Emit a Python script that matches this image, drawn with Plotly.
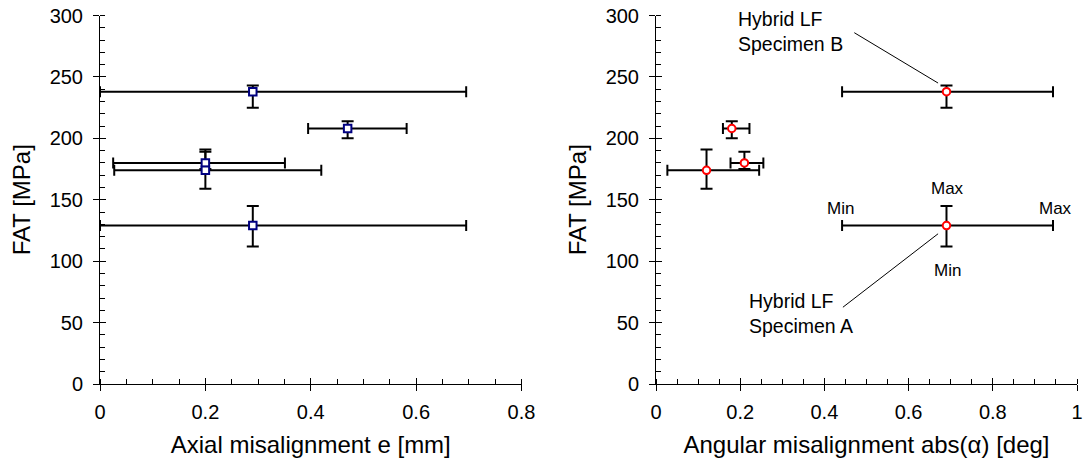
import plotly.graph_objects as go

# ---- data ----
fat = [238, 208, 180, 174, 129]
fat_max = [243, 214, 189, 191, 145]
fat_min = [225, 200, 175, 159, 112]

axial_e = [0.29, 0.47, 0.20, 0.20, 0.29]
axial_e_min = [0.0, 0.395, 0.025, 0.027, 0.0]
axial_e_max = [0.695, 0.582, 0.351, 0.42, 0.695]

ang_a = [0.69, 0.18, 0.21, 0.12, 0.69]
ang_a_min = [0.442, 0.159, 0.177, 0.027, 0.442]
ang_a_max = [0.943, 0.222, 0.255, 0.245, 0.943]

FONT = "Arial, Liberation Sans, sans-serif"

def plus(v, hi):
    return [h - c for c, h in zip(v, hi)]

def minus(v, lo):
    return [c - l for c, l in zip(v, lo)]

fig = go.Figure()

err_common = dict(type="data", symmetric=False, color="black", thickness=2)

fig.add_trace(go.Scatter(
    x=axial_e, y=fat, mode="markers", xaxis="x", yaxis="y",
    marker=dict(symbol="square", size=7.5, color="white",
                line=dict(color="#000080", width=2)),
    error_x=dict(array=plus(axial_e, axial_e_max), arrayminus=minus(axial_e, axial_e_min),
                 width=5.5, **err_common),
    error_y=dict(array=plus(fat, fat_max), arrayminus=minus(fat, fat_min),
                 width=6, **err_common),
    cliponaxis=False, showlegend=False, hoverinfo="x+y"))

fig.add_trace(go.Scatter(
    x=ang_a, y=fat, mode="markers", xaxis="x2", yaxis="y2",
    marker=dict(symbol="circle", size=7.5, color="white",
                line=dict(color="#ff0000", width=2)),
    error_x=dict(array=plus(ang_a, ang_a_max), arrayminus=minus(ang_a, ang_a_min),
                 width=5.5, **err_common),
    error_y=dict(array=plus(fat, fat_max), arrayminus=minus(fat, fat_min),
                 width=6, **err_common),
    cliponaxis=False, showlegend=False, hoverinfo="x+y"))

# invisible traces for overlay axes (inner half of the crossing major ticks)
fig.add_trace(go.Scatter(x=[None], y=[None], xaxis="x3", yaxis="y3", showlegend=False))
fig.add_trace(go.Scatter(x=[None], y=[None], xaxis="x4", yaxis="y4", showlegend=False))

W, H = 1084, 465

def xd(p0, p1):
    return [p0 / W, p1 / W]

xdom_l = xd(100, 521.5)
xdom_r = xd(656, 1077)
ydom = [(H - 384) / H, (H - 15.5) / H]

tickfont = dict(family=FONT, size=20, color="black")
titlefont = dict(family=FONT, size=24, color="black")

def xaxis_def(dom, rng, dtick, title, anchor):
    return dict(domain=dom, range=rng, dtick=dtick, tick0=0, anchor=anchor,
                showline=True, linecolor="black", linewidth=1,
                ticks="outside", ticklen=6, tickwidth=1, tickcolor="black",
                minor=dict(ticks="inside", ticklen=5, dtick=0.05, tickcolor="black", tickwidth=1),
                showgrid=False, zeroline=False, tickfont=tickfont,
                ticklabelstandoff=4, ticklabeloverflow="allow",
                title=dict(text=title, font=titlefont, standoff=14), automargin=False)

def yaxis_def(dom, anchor):
    return dict(domain=dom, range=[0, 300], dtick=50, tick0=0, anchor=anchor,
                showline=True, linecolor="black", linewidth=1,
                ticks="outside", ticklen=6, tickwidth=1, tickcolor="black",
                minor=dict(ticks="inside", ticklen=5, dtick=10, tickcolor="black", tickwidth=1),
                showgrid=False, zeroline=False, tickfont=tickfont,
                ticklabelstandoff=6, ticklabeloverflow="allow",
                title=dict(text="FAT [MPa]", font=titlefont, standoff=12), automargin=False)

def overlay_x(rng, dtick, over, anchor):
    return dict(range=rng, dtick=dtick, tick0=0, overlaying=over, anchor=anchor,
                ticks="inside", ticklen=6, tickwidth=1, tickcolor="black",
                showticklabels=False, showline=False, showgrid=False, zeroline=False)

def overlay_y(over, anchor):
    return dict(range=[0, 300], dtick=50, tick0=0, overlaying=over, anchor=anchor,
                ticks="inside", ticklen=6, tickwidth=1, tickcolor="black",
                showticklabels=False, showline=False, showgrid=False, zeroline=False)

fig.update_layout(
    width=W, height=H,
    margin=dict(l=0, r=0, t=0, b=0),
    paper_bgcolor="white", plot_bgcolor="white",
    font=dict(family=FONT, color="black"),
    xaxis=xaxis_def(xdom_l, [0, 0.8], 0.2, "Axial misalignment e [mm]", "y"),
    yaxis=yaxis_def(ydom, "x"),
    xaxis2=xaxis_def(xdom_r, [0, 1], 0.2, "Angular misalignment abs(α) [deg]", "y2"),
    yaxis2=yaxis_def(ydom, "x2"),
    xaxis3=overlay_x([0, 0.8], 0.2, "x", "y3"),
    yaxis3=overlay_y("y", "x3"),
    xaxis4=overlay_x([0, 1], 0.2, "x2", "y4"),
    yaxis4=overlay_y("y2", "x4"),
)
fig.layout.xaxis2.tickvals = [0, 0.2, 0.4, 0.6, 0.8, 1.0]
fig.layout.xaxis2.ticktext = ["0", "0.2", "0.4", "0.6", "0.8", "1"]

# annotations on right panel
small = dict(family=FONT, size=17, color="black")
mid = dict(family=FONT, size=19.5, color="black")
ann = [
    dict(x=0.692, y=159.5, text="Max", font=small),
    dict(x=0.439, y=142.5, text="Min", font=small),
    dict(x=0.949, y=142.5, text="Max", font=small),
    dict(x=0.692, y=92.5, text="Min", font=small),
]
for a in ann:
    fig.add_annotation(xref="x2", yref="y2", showarrow=False,
                       xanchor="center", yanchor="middle", **a)

fig.add_annotation(xref="x2", yref="y2", x=0.19, y=286.6, text="Hybrid LF<br>Specimen B",
                   showarrow=False, xanchor="left", yanchor="middle", align="left", font=mid)
fig.add_annotation(xref="x2", yref="y2", x=0.215, y=57.5, text="Hybrid LF<br>Specimen A",
                   showarrow=False, xanchor="left", yanchor="middle", align="left", font=mid)

fig.add_shape(type="line", xref="x2", yref="y2", x0=0.471, y0=286, x1=0.67, y1=245,
              line=dict(color="black", width=1))
fig.add_shape(type="line", xref="x2", yref="y2", x0=0.444, y0=62.5, x1=0.67, y1=122.3,
              line=dict(color="black", width=1))

fig.write_html(
    "out.html",
    config={"displayModeBar": False},
    post_script="document.body.style.margin='0';document.documentElement.style.overflow='hidden';document.body.style.overflow='hidden';",
)
